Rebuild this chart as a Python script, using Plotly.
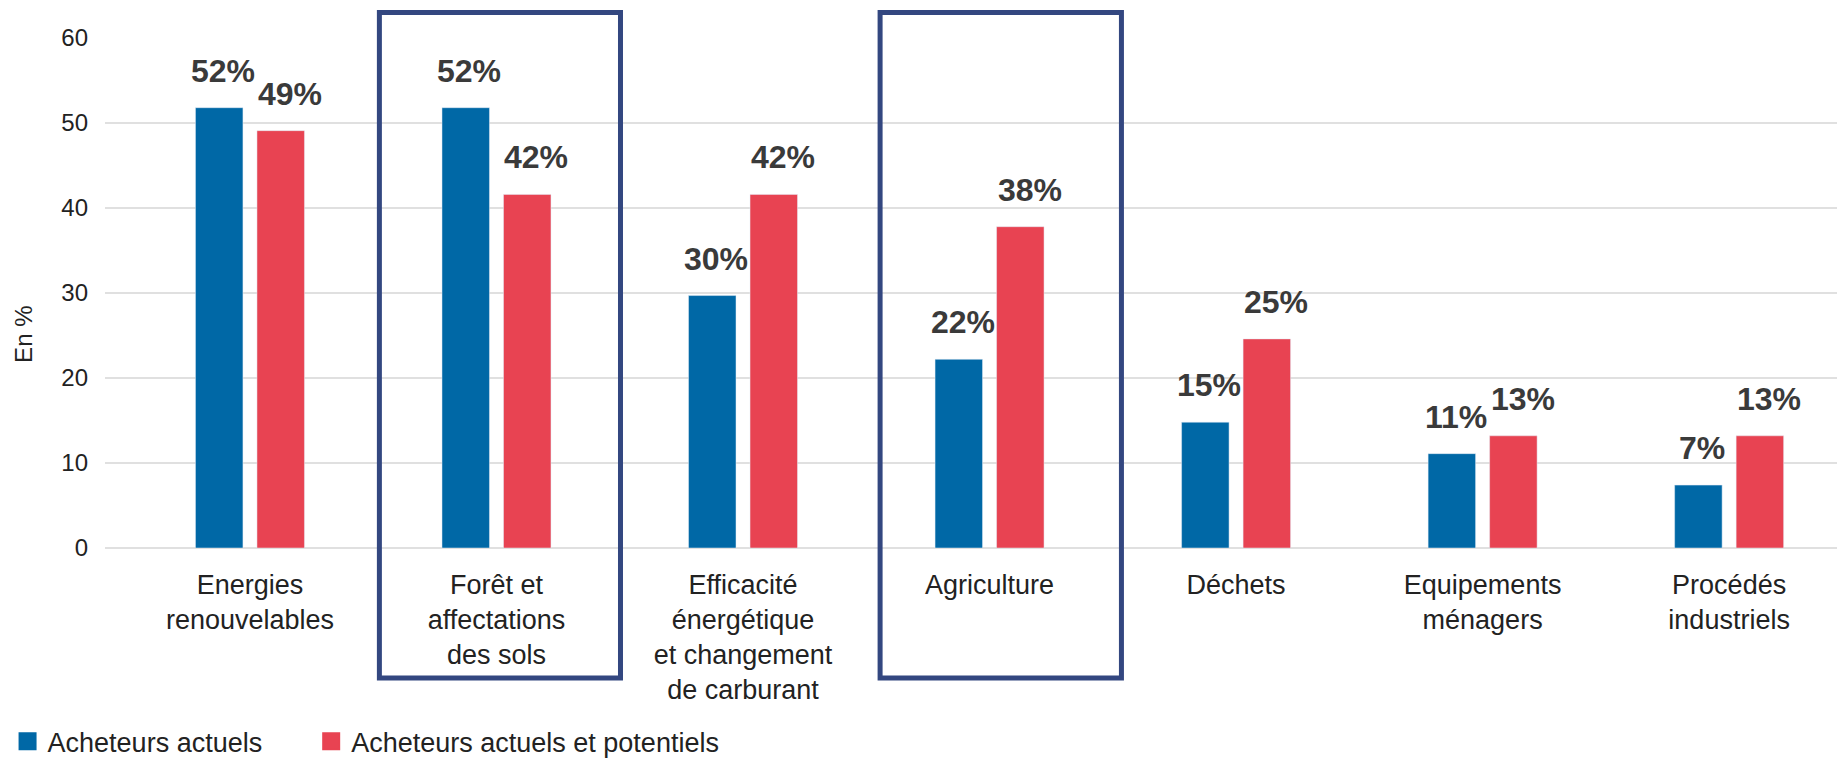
"Acheteurs actuels et potentiels par secteur - bar chart"

import plotly.graph_objects as go

categories = [
    "Energies<br>renouvelables",
    "Forêt et<br>affectations<br>des sols",
    "Efficacité<br>énergétique<br>et changement<br>de carburant",
    "Agriculture",
    "Déchets",
    "Equipements<br>ménagers",
    "Procédés<br>industriels",
]
actuels = [51.8, 51.8, 29.7, 22.2, 14.8, 11.1, 7.4]
actuels_labels = ["52%", "52%", "30%", "22%", "15%", "11%", "7%"]
potentiels = [49.1, 41.6, 41.6, 37.8, 24.6, 13.2, 13.2]
potentiels_labels = ["49%", "42%", "42%", "38%", "25%", "13%", "13%"]
y_ticks = [0, 10, 20, 30, 40, 50, 60]

# highlighted categories (index, left offset, right offset)
boxes = [(1, -0.475, 0.503), (3, -0.444, 0.535)]

BLUE = "#0068A6"
RED = "#E84352"
NAVY = "#334780"
FONT = "Liberation Sans, Arial, Helvetica, sans-serif"

figure = go.Figure()
figure.add_trace(go.Bar(x=categories, y=actuels, name="Acheteurs actuels",
                        marker={"color": BLUE}, showlegend=False))
figure.add_trace(go.Bar(x=categories, y=potentiels, name="Acheteurs actuels et potentiels",
                        marker={"color": RED}, showlegend=False))

# legend entries with bigger squares, one legend each so they sit where the original has them
for name, color, leg in [("Acheteurs actuels", BLUE, "legend"),
                         ("Acheteurs actuels et potentiels", RED, "legend2")]:
    figure.add_trace(go.Scatter(x=[None], y=[None], mode="markers", name=name, legend=leg,
                                marker={"symbol": "square", "size": 16, "color": color,
                                        "line": {"color": color, "width": 2}}))

annotations = []
for values, labels, shift in [(actuels, actuels_labels, -27), (potentiels, potentiels_labels, 40)]:
    for cat, val, lab in zip(categories, values, labels):
        annotations.append(dict(
            x=cat, y=val, text=f"<b>{lab}</b>", showarrow=False,
            xanchor="center", yanchor="bottom", xshift=shift, yshift=17,
            font={"family": FONT, "size": 32, "color": "#3a3a3a"}))

annotations.append(dict(
    x=-0.0468, y=0.419, xref="paper", yref="paper", text="En %", textangle=-90,
    showarrow=False, xanchor="center", yanchor="middle",
    font={"family": FONT, "size": 24, "color": "#222222"}))

shapes = []
for idx, left, right in boxes:
    shapes.append(dict(type="rect", xref="x", yref="paper",
                       x0=idx + left, x1=idx + right, y0=-0.255, y1=1.05,
                       line={"color": NAVY, "width": 5}, fillcolor="rgba(0,0,0,0)"))

legend_style = {"orientation": "h", "xanchor": "left", "yanchor": "middle",
                "bgcolor": "rgba(0,0,0,0)", "itemclick": False,
                "font": {"size": 27, "color": "#222222"}}

# the page body keeps its default 8px margin, so the figure is 8px smaller
figure.update_layout(
    width=1837, height=755,
    margin={"l": 97, "r": 0, "t": 30, "b": 215, "autoexpand": False},
    paper_bgcolor="white", plot_bgcolor="white",
    barmode="group", bargap=0.501, bargroupgap=0.228,
    font={"family": FONT, "size": 27, "color": "#222222"},
    xaxis={"type": "category", "range": [-0.588, 6.47], "showgrid": False,
           "showline": False, "ticks": "", "ticklabelstandoff": 18,
           "tickfont": {"size": 27, "color": "#222222"}},
    yaxis={"range": [0, 60], "tickvals": y_ticks, "showgrid": True,
           "gridcolor": "#e0e0e0", "gridwidth": 1.5, "zeroline": True,
           "zerolinecolor": "#e0e0e0", "zerolinewidth": 1.5, "showline": False,
           "ticks": "", "ticklabelstandoff": 16,
           "tickfont": {"size": 24, "color": "#222222"}},
    legend={**legend_style, "x": -0.056, "y": -0.38},
    legend2={**legend_style, "x": 0.1185, "y": -0.38},
    annotations=annotations,
    shapes=shapes,
)

figure.write_html("out.html")
